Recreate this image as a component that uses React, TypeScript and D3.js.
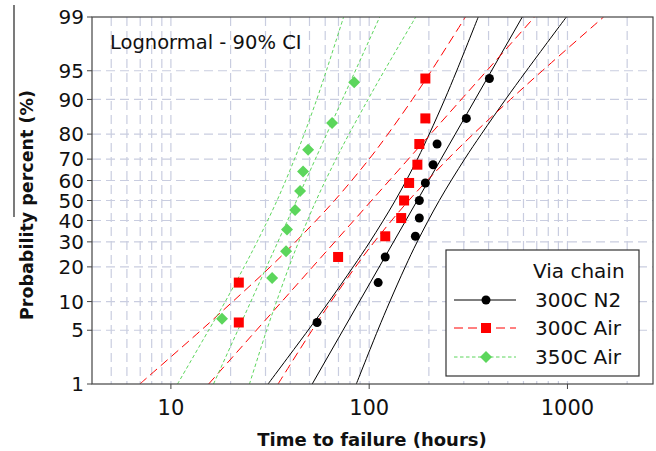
import React from 'react';
import * as d3 from 'd3';

// probability levels (%) at which the confidence bands were read
const bandLevels = [1, 5, 10, 20, 30, 50, 70, 80, 90, 95, 99];
const fitLevels = [1, 99];
const yTickValues = [1, 5, 10, 20, 30, 40, 50, 60, 70, 80, 90, 95, 99];
const xTickValues = [10, 100, 1000];

// 300C N2
const n2Times = [54.6, 111, 120.5, 171, 179, 179, 192, 210, 220, 309, 404];
const n2Probs = [6.1, 14.9, 23.7, 32.5, 41.2, 50, 58.8, 67.5, 76.3, 85.1, 93.9];
const n2Fit = [51.6, 591.8];
const n2Lower = [30.9, 49.2, 62.7, 83.0, 100.8, 135.3, 175.0, 200.9, 240.4, 276.3, 354.8];
const n2Upper = [86.1, 110.5, 127.1, 152.0, 174.6, 225.7, 302.9, 367.9, 487.4, 620.7, 987.2];

// 300C Air
const air300Times = [22.0, 22.0, 69.7, 120.5, 145, 150, 159, 175, 179, 192, 192];
const air300Probs = [6.1, 14.9, 23.7, 32.5, 41.2, 50, 58.8, 67.5, 76.3, 85.1, 93.9];
const air300Fit = [15.5, 682];
const air300Lower = [6.97, 14.2, 20.5, 31.7, 42.5, 66.9, 99.9, 124.3, 165.1, 205.9, 305.8];
const air300Upper = [34.7, 51.5, 64.2, 85.3, 106.1, 158.3, 249.2, 334.8, 516.1, 746.7, 1521];

// 350C Air
const air350Times = [18.1, 32.4, 38.1, 38.5, 42.3, 44.8, 46.4, 49.2, 65.0, 84.0];
const air350Probs = [6.7, 16.3, 26.0, 35.6, 45.2, 54.8, 64.4, 74.0, 83.7, 93.3];
const air350Fit = [16.4, 113.0];
const air350Lower = [10.8, 15.5, 18.8, 23.4, 27.2, 34.3, 42.0, 47.0, 54.4, 60.8, 74.3];
const air350Upper = [24.9, 30.4, 34.1, 39.4, 44.1, 54.0, 68.0, 79.1, 98.7, 119.2, 171.7];

const FONT = "'DejaVu Sans', Verdana, sans-serif";

// inverse standard normal CDF (Acklam)
function probit(p: number) {
  const a = [-39.69683028665376, 220.9460984245205, -275.9285104469687, 138.357751867269, -30.66479806614716, 2.506628277459239];
  const b = [-54.47609879822406, 161.5858368580409, -155.6989798598866, 66.80131188771972, -13.28068155288572];
  const c = [-0.007784894002430293, -0.3223964580411365, -2.400758277161838, -2.549732539343734, 4.374664141464968, 2.938163982698783];
  const d = [0.007784695709041462, 0.3224671290700398, 2.445134137142996, 3.754408661907416];
  const pl = 0.02425;
  if (p < pl) {
    const q = Math.sqrt(-2 * Math.log(p));
    return (((((c[0] * q + c[1]) * q + c[2]) * q + c[3]) * q + c[4]) * q + c[5]) / ((((d[0] * q + d[1]) * q + d[2]) * q + d[3]) * q + 1);
  }
  if (p > 1 - pl) {
    const q = Math.sqrt(-2 * Math.log(1 - p));
    return -(((((c[0] * q + c[1]) * q + c[2]) * q + c[3]) * q + c[4]) * q + c[5]) / ((((d[0] * q + d[1]) * q + d[2]) * q + d[3]) * q + 1);
  }
  const q = p - 0.5;
  const r = q * q;
  return (((((a[0] * r + a[1]) * r + a[2]) * r + a[3]) * r + a[4]) * r + a[5]) * q / (((((b[0] * r + b[1]) * r + b[2]) * r + b[3]) * r + b[4]) * r + 1);
}

const App = () => {
  const width = 656;
  const height = 451;
  const left = 92, right = 653, top = 17, bottom = 384;

  const x = d3.scaleLog().domain([4, 2700]).range([left, right]);
  const z = d3.scaleLinear().domain([probit(0.01), probit(0.99)]).range([bottom, top]);
  const y = (p: number) => z(probit(p / 100));

  const gridX: number[] = [];
  [1, 10, 100, 1000].forEach(dec => {
    for (let k = 1; k <= 9; k++) {
      const v = k * dec;
      if (v > 4 && v < 2700) gridX.push(v);
    }
  });
  const gridY = yTickValues.filter(v => v > 1 && v < 99);

  const line = d3.line<[number, number]>()
    .x(d => x(d[0]))
    .y(d => y(d[1]))
    .curve(d3.curveCatmullRom);
  const pts = (t: number[], p: number[]) => t.map((v, i) => [v, p[i]] as [number, number]);

  const series = [
    { name: '300C N2', color: '#000000', dash: null, lw: 1, times: n2Times, probs: n2Probs, fit: n2Fit, lo: n2Lower, hi: n2Upper, shape: 'circle' },
    { name: '300C Air', color: '#ff0000', dash: '9,5', lw: 1, times: air300Times, probs: air300Probs, fit: air300Fit, lo: air300Lower, hi: air300Upper, shape: 'square' },
    { name: '350C Air', color: '#5cd65c', dash: '3.5,2.5', lw: 1, times: air350Times, probs: air350Probs, fit: air350Fit, lo: air350Lower, hi: air350Upper, shape: 'diamond' },
  ];

  const marker = (shape: string, cx: number, cy: number, color: string, key: any) => {
    if (shape === 'circle') return <circle key={key} cx={cx} cy={cy} r={4.5} fill={color} />;
    if (shape === 'square') return <rect key={key} x={cx - 5} y={cy - 5} width={10} height={10} fill={color} />;
    return <path key={key} d={`M${cx},${cy - 6}L${cx + 6},${cy}L${cx},${cy + 6}L${cx - 6},${cy}Z`} fill={color} />;
  };

  const legendRows = [307, 335, 364];

  return (
    <svg width={width} height={height} style={{ position: 'absolute', left: 0, top: 0, background: '#fff' }} fontFamily={FONT}>
      <defs>
        <clipPath id="plotClip">
          <rect x={left} y={top} width={right - left} height={bottom - top} />
        </clipPath>
      </defs>

      {/* stray edge line on the left */}
      <line x1={14} x2={14} y1={5} y2={217} stroke="#222" strokeWidth={1.2} />

      {/* grid */}
      <g stroke="#c9cde0" strokeWidth={1.2} strokeDasharray="9,5">
        {gridX.map(v => (
          <line key={'gx' + v} x1={x(v)} x2={x(v)} y1={top} y2={bottom} />
        ))}
        {gridY.map(v => (
          <line key={'gy' + v} x1={left} x2={right} y1={y(v)} y2={y(v)} />
        ))}
      </g>

      {/* fits and bands */}
      <g clipPath="url(#plotClip)" fill="none">
        {series.map(s => (
          <g key={s.name} stroke={s.color} strokeWidth={s.lw} strokeDasharray={s.dash || undefined}>
            <path d={line(pts(s.fit, fitLevels)) || ''} />
            <path d={line(pts(s.lo, bandLevels)) || ''} />
            <path d={line(pts(s.hi, bandLevels)) || ''} />
          </g>
        ))}
      </g>

      {/* points */}
      <g>
        {series.map(s => s.times.map((t, i) => marker(s.shape, x(t), y(s.probs[i]), s.color, s.name + i)))}
      </g>

      {/* frame */}
      <rect x={left} y={top} width={right - left} height={bottom - top} fill="none" stroke="#444" strokeWidth={1.2} />

      {/* y axis */}
      <g fontSize={20} fill="#111" textAnchor="end">
        {yTickValues.map(v => (
          <g key={'yt' + v}>
            <line x1={left - 5} x2={left} y1={y(v)} y2={y(v)} stroke="#444" />
            <text x={left - 8} y={y(v)} dy="0.36em">{v}</text>
          </g>
        ))}
      </g>

      {/* x axis */}
      <g fontSize={21} fill="#111" textAnchor="middle">
        {xTickValues.map(v => (
          <g key={'xt' + v}>
            <line x1={x(v)} x2={x(v)} y1={bottom} y2={bottom + 5} stroke="#444" />
            <text x={x(v)} y={415}>{v}</text>
          </g>
        ))}
      </g>

      <text x={372} y={446} textAnchor="middle" fontSize={18} fontWeight="bold" fill="#111">Time to failure (hours)</text>
      <text transform="translate(33,205) rotate(-90)" textAnchor="middle" fontSize={17.5} fontWeight="bold" fill="#111">Probability percent (%)</text>

      <text x={110} y={49} fontSize={19.5} fill="#111">Lognormal - 90% CI</text>

      {/* legend */}
      <g>
        <rect x={446} y={250} width={193} height={126} fill="#fff" stroke="#333" strokeWidth={1.2} />
        <text x={533} y={278} fontSize={20} fill="#111">Via chain</text>
        {series.map((s, i) => (
          <g key={'lg' + s.name}>
            <line x1={454} x2={516} y1={legendRows[i] - 7} y2={legendRows[i] - 7} stroke={s.color} strokeWidth={1} strokeDasharray={s.dash || undefined} />
            {marker(s.shape, 486, legendRows[i] - 7, s.color, 'lm' + i)}
            <text x={535} y={legendRows[i]} fontSize={20} fill="#111">{s.name}</text>
          </g>
        ))}
      </g>
    </svg>
  );
};

export default App;
